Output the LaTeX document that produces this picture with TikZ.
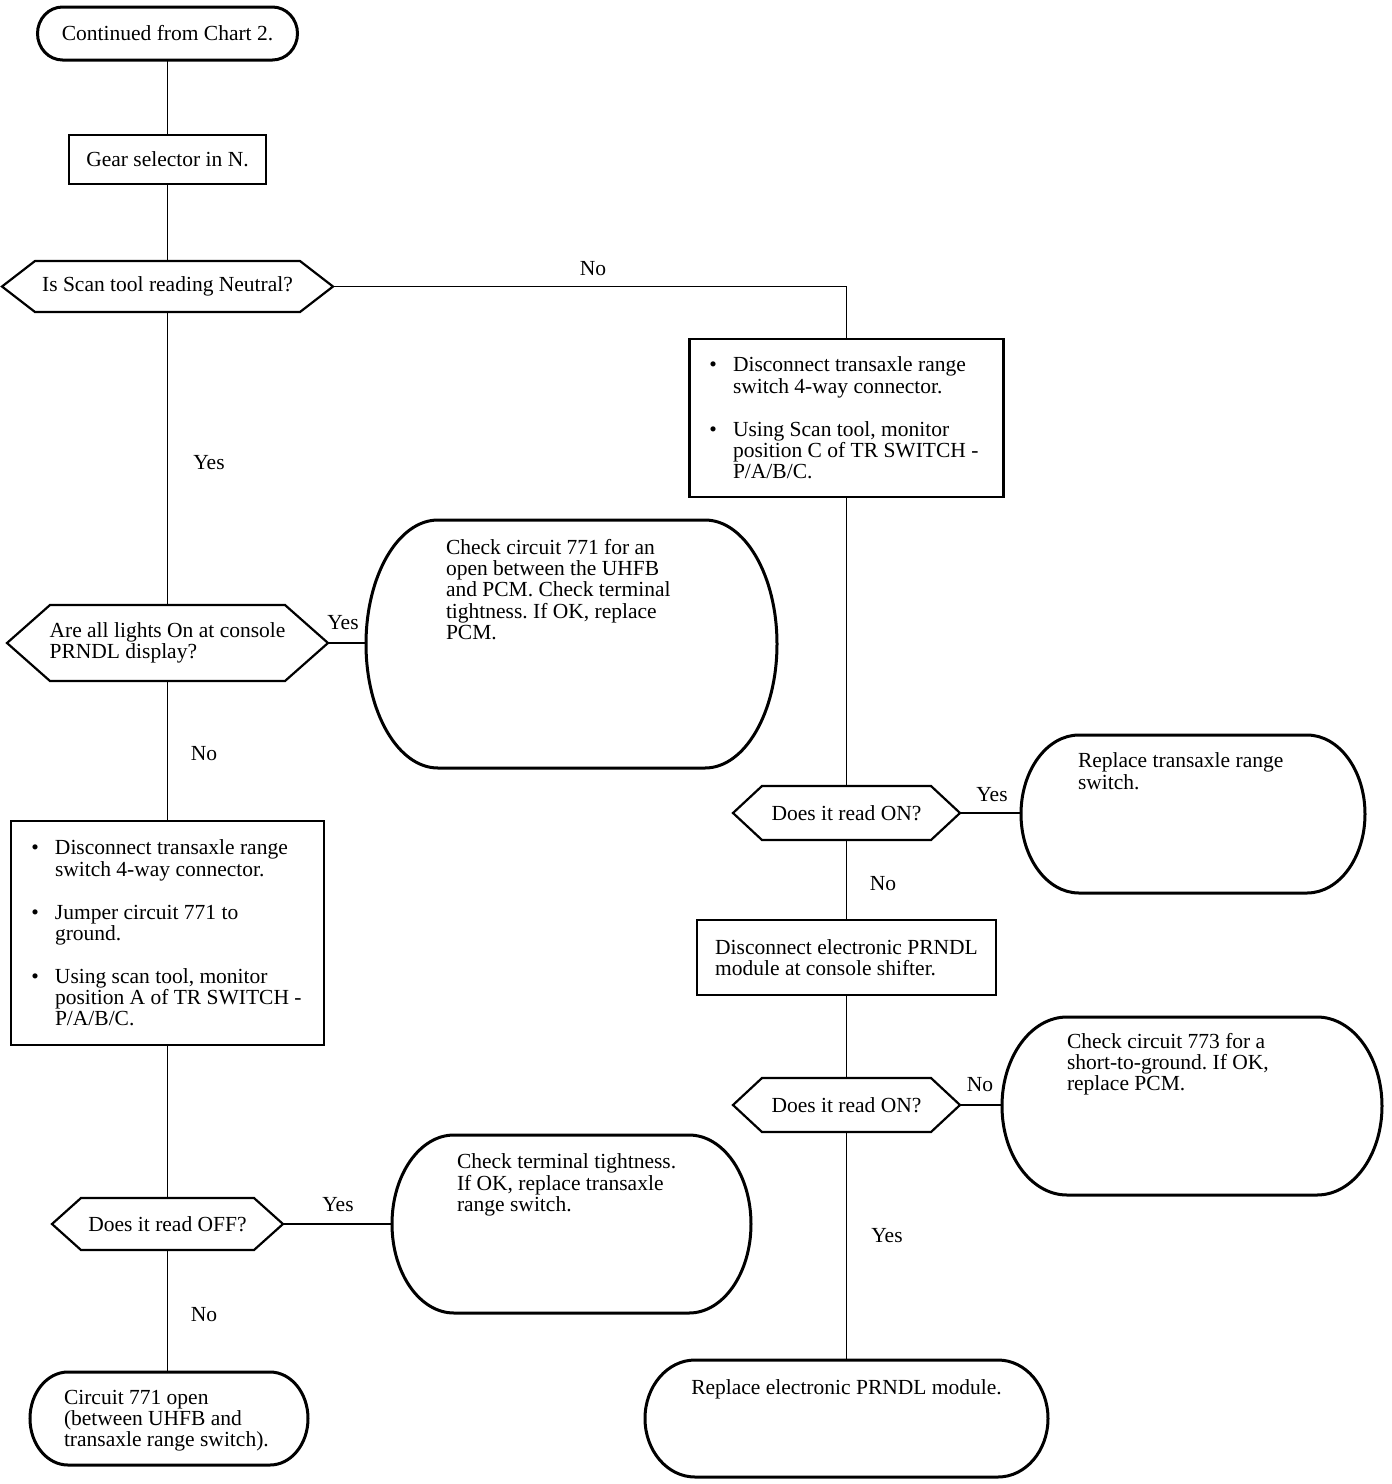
\documentclass[tikz,border=0pt]{standalone}
\usepackage{fontspec}
\setmainfont{Liberation Serif}
\usetikzlibrary{calc}
\frenchspacing
\newcommand\hexo[2]{\draw[hexline] ([xshift=#2]#1.north west) -- ([xshift=-#2]#1.north east) -- (#1.east) -- ([xshift=-#2]#1.south east) -- ([xshift=#2]#1.south west) -- (#1.west) -- cycle;}
\newcommand\stadium[2]{\draw[termline] let \p1=(#1.north), \p2=(#1.south), \n1={(\y1-\y2)/2} in
  ([xshift=#2]#1.north west) -- ([xshift=-#2]#1.north east)
  arc[start angle=90,end angle=-90,x radius=#2,y radius=\n1]
  -- ([xshift=#2]#1.south west)
  arc[start angle=270,end angle=90,x radius=#2,y radius=\n1] -- cycle;}
\newcommand\bulletmark{\llap{\textbullet\hspace{16pt}}}
\begin{document}
\begin{tikzpicture}[x=1pt,y=-1pt,
  every node/.style={font=\fontsize{21.5}{21.3}\selectfont\frenchspacing, inner sep=0pt, outer sep=0pt},
  rectbox/.style={draw, line width=2.4pt},
  shapebox/.style={draw=none},
  conn/.style={line width=1.8pt},
  hexline/.style={line width=2.2pt, line join=miter},
  termline/.style={line width=3pt},
  txt/.style={align=left, anchor=north west}]
\useasboundingbox[fill=white] (0,0) rectangle (1392,1484);

% left column
\node[shapebox, minimum width=260pt, minimum height=53pt] (start) at (167.5,33.5) {Continued from Chart 2.};
\stadium{start}{25pt}
\node[rectbox, minimum width=197pt, minimum height=49pt] (gear) at (167.5,159.5) {Gear selector in N.};
\node[shapebox, minimum width=331pt, minimum height=51pt] (hexA) at (167.5,286.5) {Is Scan tool reading Neutral?};
\hexo{hexA}{33pt}
\node[shapebox, minimum width=321pt, minimum height=76pt, align=left] (hexB) at (167.5,643) {Are all lights On at console\\PRNDL display?};
\hexo{hexB}{43pt}
\node[shapebox, minimum width=411pt, minimum height=248pt] (termA) at (571.5,644) {};
\stadium{termA}{72pt}
\node[txt] (termAt) at (446,539) {Check circuit 771 for an\\open between the UHFB\\and PCM. Check terminal\\tightness. If OK, replace\\PCM.};
\node[rectbox, minimum width=313pt, minimum height=224pt] (boxL) at (167.5,933) {};
\node[txt] (boxLt) at (55,840) {\bulletmark Disconnect transaxle range\\switch 4-way connector.\\[21.5pt]\bulletmark Jumper circuit 771 to\\ground.\\[21.5pt]\bulletmark Using scan tool, monitor\\position A of TR SWITCH -\\P/A/B/C.};
\node[shapebox, minimum width=231pt, minimum height=52pt] (hexE) at (167.5,1224) {Does it read OFF?};
\hexo{hexE}{29pt}
\node[shapebox, minimum width=359pt, minimum height=178pt] (termE) at (571.5,1224) {};
\stadium{termE}{62pt}
\node[txt] (termEt) at (457,1154) {Check terminal tightness.\\If OK, replace transaxle\\range switch.};
\node[shapebox, minimum width=278pt, minimum height=93pt] (termF) at (169,1418.5) {};
\stadium{termF}{38pt}
\node[txt] (termFt) at (64,1390) {Circuit 771 open\\(between UHFB and\\transaxle range switch).};

% right column
\node[rectbox, minimum width=314pt, minimum height=158pt] (boxR) at (846.5,418) {};
\node[txt] (boxRt) at (733,357) {\bulletmark Disconnect transaxle range\\switch 4-way connector.\\[21.5pt]\bulletmark Using Scan tool, monitor\\position C of TR SWITCH -\\P/A/B/C.};
\node[shapebox, minimum width=227pt, minimum height=54pt] (hexC) at (846.5,813) {Does it read ON?};
\hexo{hexC}{29pt}
\node[shapebox, minimum width=344pt, minimum height=158pt] (termB) at (1193,814) {};
\stadium{termB}{58pt}
\node[txt] (termBt) at (1078,753) {Replace transaxle range\\switch.};
\node[rectbox, minimum width=299pt, minimum height=75pt, align=left] (boxP) at (846.5,957.5) {Disconnect electronic PRNDL\\module at console shifter.};
\node[shapebox, minimum width=227pt, minimum height=54pt] (hexD) at (846.5,1105) {Does it read ON?};
\hexo{hexD}{29pt}
\node[shapebox, minimum width=380pt, minimum height=178pt] (termC) at (1192,1106) {};
\stadium{termC}{65pt}
\node[txt] (termCt) at (1067,1033) {Check circuit 773 for a\\short-to-ground. If OK,\\replace PCM.};
\node[shapebox, minimum width=403pt, minimum height=117pt] (termD) at (846.5,1418.5) {};
\stadium{termD}{50pt}
\node[anchor=north] (termDt) at (846.5,1380) {Replace electronic PRNDL module.};

% connectors
\draw[conn] (start.south) -- (gear.north);
\draw[conn] (gear.south) -- (hexA.north);
\draw[conn] (hexA.east) -| (boxR.north);
\draw[conn] (hexA.south) -- (hexB.north);
\draw[conn] (hexB.east) -- (hexB.east -| termA.west);
\draw[conn] (hexB.south) -- (boxL.north);
\draw[conn] (boxL.south) -- (hexE.north);
\draw[conn] (hexE.east) -- (hexE.east -| termE.west);
\draw[conn] (hexE.south) -- (hexE.south |- termF.north);
\draw[conn] (boxR.south) -- (hexC.north);
\draw[conn] (hexC.east) -- (hexC.east -| termB.west);
\draw[conn] (hexC.south) -- (boxP.north);
\draw[conn] (boxP.south) -- (hexD.north);
\draw[conn] (hexD.east) -- (hexD.east -| termC.west);
\draw[conn] (hexD.south) -- (termD.north);

% labels
\node (l1) at (593,269) {No};
\node (l2) at (209,463) {Yes};
\node (l3) at (343,623) {Yes};
\node (l4) at (204,754) {No};
\node (l5) at (338,1205) {Yes};
\node (l6) at (204,1315) {No};
\node (l7) at (992,795) {Yes};
\node (l8) at (883,884) {No};
\node (l9) at (980,1085) {No};
\node (l10) at (887,1236) {Yes};
\end{tikzpicture}
\end{document}
